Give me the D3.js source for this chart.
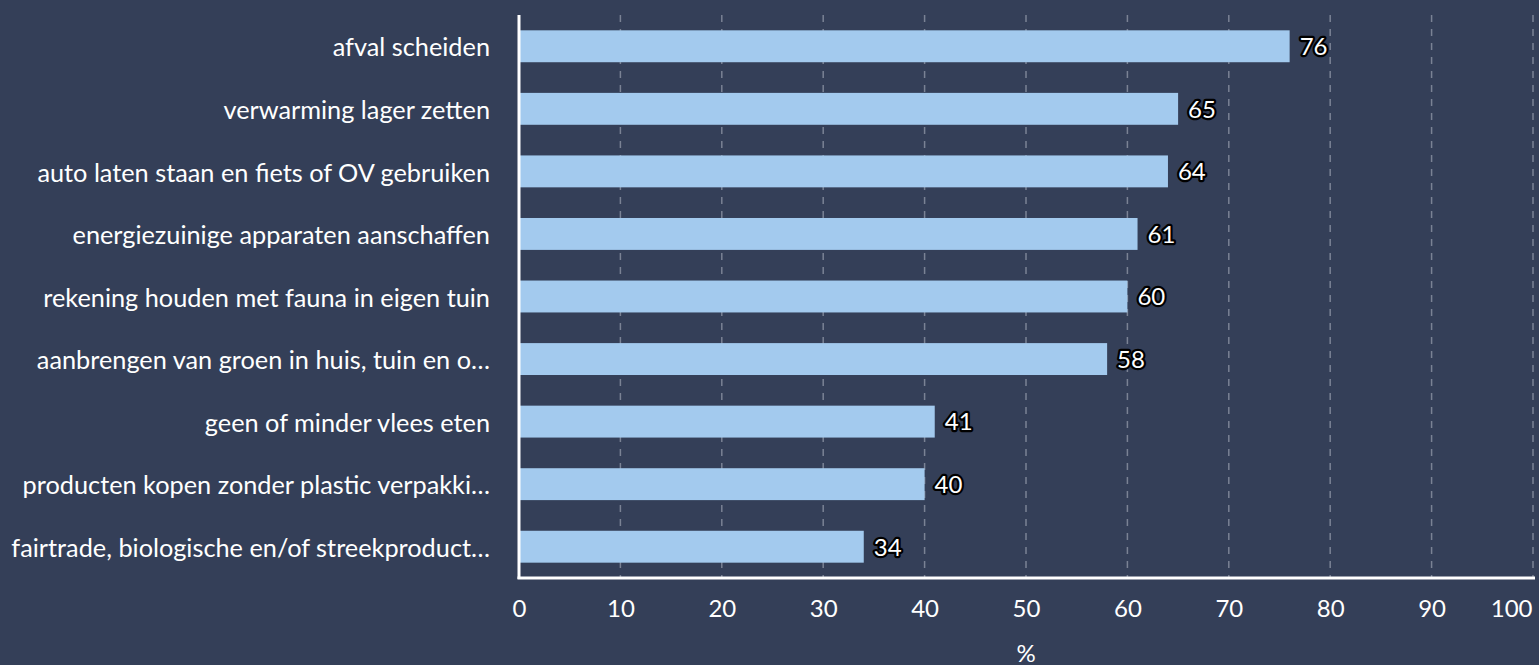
<!DOCTYPE html>
<html>
<head>
<meta charset="utf-8">
<script src="https://cdn.jsdelivr.net/npm/d3@7"></script>
<style>
  html, body { margin: 0; padding: 0; background: #343f58; overflow: hidden; }
  svg { display: block; font-family: Lato, "Open Sans", sans-serif; }
</style>
</head>
<body>
<svg id="chart" width="1539" height="665"></svg>
<script>
// categories and percentages
var categories = [
  "afval scheiden",
  "verwarming lager zetten",
  "auto laten staan en fiets of OV gebruiken",
  "energiezuinige apparaten aanschaffen",
  "rekening houden met fauna in eigen tuin",
  "aanbrengen van groen in huis, tuin en o\u2026",
  "geen of minder vlees eten",
  "producten kopen zonder plastic verpakki\u2026",
  "fairtrade, biologische en/of streekproduct\u2026"
];
var values = [76, 65, 64, 61, 60, 58, 41, 40, 34];
var xTicks = [0, 10, 20, 30, 40, 50, 60, 70, 80, 90, 100];
var xTitle = "%";

var svg = d3.select("#chart");
var margin = {top: 15, right: 6, bottom: 87, left: 519};
var width = 1539 - margin.left - margin.right,
    height = 665 - margin.top - margin.bottom;

var g = svg.append("g")
  .attr("transform", "translate(" + margin.left + "," + margin.top + ")");

var x = d3.scaleLinear().domain([0, 100]).range([0, width]);
var y = d3.scaleBand().domain(categories).range([0, height]).paddingInner(0.49).paddingOuter(0.245);

// dashed gridlines
g.append("g")
  .selectAll("line")
  .data(xTicks.slice(1))
  .enter().append("line")
  .attr("x1", function(d) { return x(d); })
  .attr("x2", function(d) { return x(d); })
  .attr("y1", 0)
  .attr("y2", height)
  .attr("stroke", "#7a8294")
  .attr("stroke-width", 1.5)
  .attr("stroke-dasharray", "7,7");

// bars
g.append("g")
  .selectAll("rect")
  .data(values)
  .enter().append("rect")
  .attr("x", x(0))
  .attr("y", function(d, i) { return y(categories[i]); })
  .attr("width", function(d) { return x(d) - x(0); })
  .attr("height", y.bandwidth())
  .attr("fill", "#a3caee");

// value labels
g.append("g")
  .selectAll("text")
  .data(values)
  .enter().append("text")
  .attr("x", function(d) { return x(d) + 10; })
  .attr("y", function(d, i) { return y(categories[i]) + y.bandwidth() / 2; })
  .attr("dy", "0.37em")
  .attr("font-size", 24)
  .attr("fill", "#ffffff")
  .attr("stroke", "#000000")
  .attr("stroke-width", 4.5)
  .attr("stroke-linejoin", "round")
  .attr("paint-order", "stroke")
  .text(function(d) { return d; });

// category axis
var yAxis = g.append("g")
  .call(d3.axisLeft(y).tickSize(0).tickPadding(29));
yAxis.select(".domain").remove();
yAxis.selectAll("text")
  .attr("font-size", 25.3)
  .attr("dy", "0.4em")
  .attr("fill", "#ffffff")
  .attr("font-family", "Lato, sans-serif");

// value axis
var xAxis = g.append("g")
  .attr("transform", "translate(0," + height + ")")
  .call(d3.axisBottom(x).tickValues(xTicks).tickSize(0).tickPadding(22));
xAxis.select(".domain").remove();
xAxis.selectAll("text")
  .attr("font-size", 24)
  .attr("fill", "#ffffff")
  .attr("font-family", "Lato, sans-serif")
  .attr("text-anchor", function(d) { return d === 100 ? "end" : "middle"; })
  .attr("dx", function(d) { return d === 100 ? -1 : 0; });

// axis lines
g.append("line")
  .attr("x1", 0).attr("x2", 0)
  .attr("y1", 0).attr("y2", height + 1)
  .attr("stroke", "#ffffff").attr("stroke-width", 3);
g.append("line")
  .attr("x1", -1.5).attr("x2", width + 2)
  .attr("y1", height).attr("y2", height)
  .attr("stroke", "#ffffff").attr("stroke-width", 3);

// axis title
g.append("text")
  .attr("x", x(50))
  .attr("y", height + 84)
  .attr("text-anchor", "middle")
  .attr("font-size", 24)
  .attr("fill", "#ffffff")
  .text(xTitle);
</script>
</body>
</html>
